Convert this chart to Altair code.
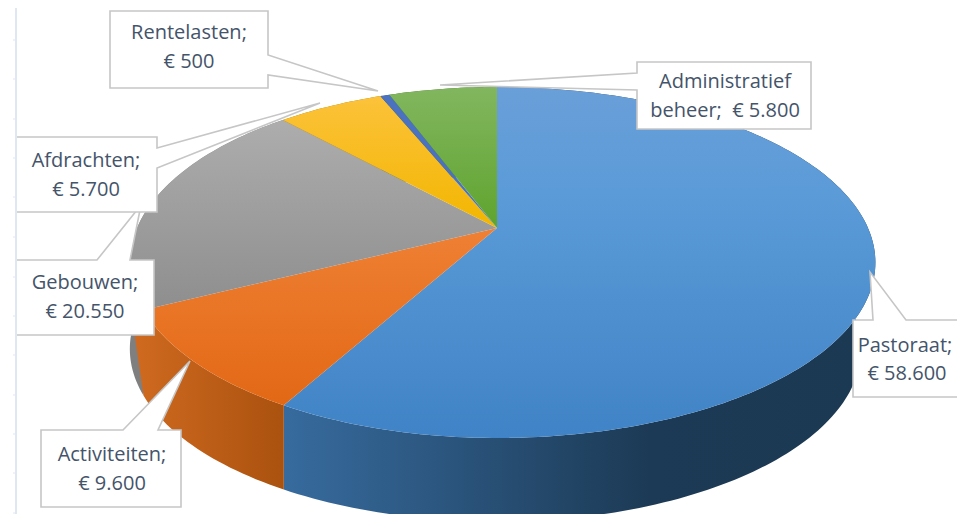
import math
import altair as alt
import pandas as pd

names = ["Pastoraat", "Activiteiten", "Gebouwen", "Afdrachten", "Rentelasten", "Administratief beheer"]
values = [58600, 9600, 20550, 5700, 500, 5800]

top_stops = [
    [("#6a9fd9", 0), ("#5b9bd8", 0.3), ("#4083c6", 1)],
    [("#ef8034", 0), ("#e26815", 1)],
    [("#adadad", 0), ("#8e8e8e", 1)],
    [("#fcc23a", 0), ("#f2b600", 1)],
    [("#4a72c0", 0), ("#4a72c0", 1)],
    [("#82b65f", 0), ("#5fa42e", 1)],
]
wall_stops = [
    [("#376b9e", 0), ("#1c3a55", 0.62), ("#1c3953", 1)],
    [("#d06a20", 0), ("#aa520f", 1)],
    [("#7f7f7f", 0), ("#7f7f7f", 1)],
    [("#9c7400", 0), ("#9c7400", 1)],
    [("#2d4a80", 0), ("#2d4a80", 1)],
    [("#3f6c20", 0), ("#3f6c20", 1)],
]

# perspective of the pie disc, in picture pixels
OX, OY = 8, 8
AX, AY = 497, 228
K, B = 0.1966, 168.7
LOW_Y, LOW_B = 315, 166


def top_point(t):
    u, v = math.sin(t), -math.cos(t)
    c = 371 if u > 0 else 360
    d = 1 - K * v
    return [AX + c * u / d - OX, AY + B * v / d - OY]


def low_point(t):
    u, v = math.sin(t), -math.cos(t)
    c = 357 if u > 0 else 360
    d = 1 - K * v
    return [AX + c * u / d - OX, LOW_Y + LOW_B * v / d - OY]


def feature(points):
    return {"type": "Feature", "properties": {},
            "geometry": {"type": "Polygon", "coordinates": [points + [points[0]]]}}


def grad(stops, vertical=True):
    return alt.LinearGradient(
        gradient="linear", x1=0, y1=0, x2=0 if vertical else 1, y2=1 if vertical else 0,
        stops=[alt.GradientStop(color=c, offset=o) for c, o in stops])


proj = dict(type="identity", scale=1, translate=[0, 0])


def shape(points, **mark):
    return alt.Chart(alt.Data(values=[feature(points)])).mark_geoshape(**mark).project(**proj)


total = sum(values)
layers = []
tops = []
walls = []
start = 0.0
for i, val in enumerate(values):
    end = start + val / total * 2 * math.pi
    n = max(3, int((end - start) / 0.02))
    ts = [start + (end - start) * j / n for j in range(n + 1)]
    tops.append(shape([[AX - OX, AY - OY]] + [top_point(t) for t in ts],
                      fill=grad(top_stops[i]), strokeWidth=0))
    upper = [top_point(t) for t in ts]
    if i == 1:
        upper.append([131 - OX, 310 - OY])
    walls.append(shape(upper + [low_point(t) for t in reversed(ts)],
                       fill=grad(wall_stops[i], vertical=False), strokeWidth=0))
    start = end
# back to front: hidden slices first
layers += [walls[j] for j in (4, 3, 5, 2, 0, 1)]
layers += tops

callouts = [
    # pie callouts: box with a pointer, in picture pixels
    [(16, 260), (97, 260), (141, 205), (130, 260), (154, 260), (154, 335), (16, 335)],
    [(16, 137), (157, 137), (157, 148), (320, 103), (157, 168), (157, 212), (16, 212)],
    [(110, 11), (268, 11), (268, 55), (378, 91), (268, 75), (268, 88), (110, 88)],
    [(637, 62), (811, 62), (811, 129), (637, 129), (637, 90), (440, 85), (637, 73)],
    [(41, 430), (123, 430), (190, 361), (158, 430), (181, 430), (181, 507), (41, 507)],
    [(853, 320), (873, 320), (870, 272), (906, 320), (975, 320), (975, 397), (853, 397)],
]
for c in callouts:
    pts = [[x - OX, y - OY] for x, y in c]
    layers.append(shape(pts, fill="#ffffff", stroke="#c6c6c6", strokeWidth=1.6))


def euro(v):
    return "€ " + f"{v:,}".replace(",", ".")


label_rows = [
    ("Rentelasten;", 189, 33), (euro(values[4]), 189, 62),
    ("Afdrachten;", 86, 161), (euro(values[3]), 86, 190),
    ("Gebouwen;", 85, 283), (euro(values[2]), 85, 312),
    ("Activiteiten;", 112, 455), (euro(values[1]), 112, 484),
    ("Administratief", 725, 82), ("beheer;\u00a0 " + euro(values[5]), 725, 111),
    ("Pastoraat;", 905, 346), (euro(values[0]), 907, 374),
]
labels = pd.DataFrame(label_rows, columns=["t", "px", "py"])
labels["px"] -= OX
labels["py"] -= OY
layers.append(
    alt.Chart(labels).mark_text(font="Open Sans", fontSize=20, color="#44546a", align="center", baseline="middle")
    .encode(x=alt.X("px:Q", scale=None), y=alt.Y("py:Q", scale=None), text="t:N")
)

ruler_ticks = pd.DataFrame({"py": [40, 79, 119, 158, 197, 237, 277, 316, 355, 395, 434, 473, 513]})
ruler_ticks["py"] -= OY
layers.append(
    alt.Chart(pd.DataFrame({"a": [0]})).mark_rule(color="#dfe7f2", strokeWidth=2)
    .encode(x=alt.value(8), y=alt.value(0), y2=alt.value(506))
)
layers.append(
    alt.Chart(ruler_ticks).mark_rule(color="#dfe7f2", strokeWidth=1)
    .encode(x=alt.value(5), x2=alt.value(8), y=alt.Y("py:Q", scale=None))
)

chart = alt.layer(*layers).properties(
    width=949, height=506, padding=0, autosize=alt.AutoSizeParams(type="none")
).configure_view(stroke=None)

chart.save("out.html", embed_options={"renderer": "svg", "actions": False})
